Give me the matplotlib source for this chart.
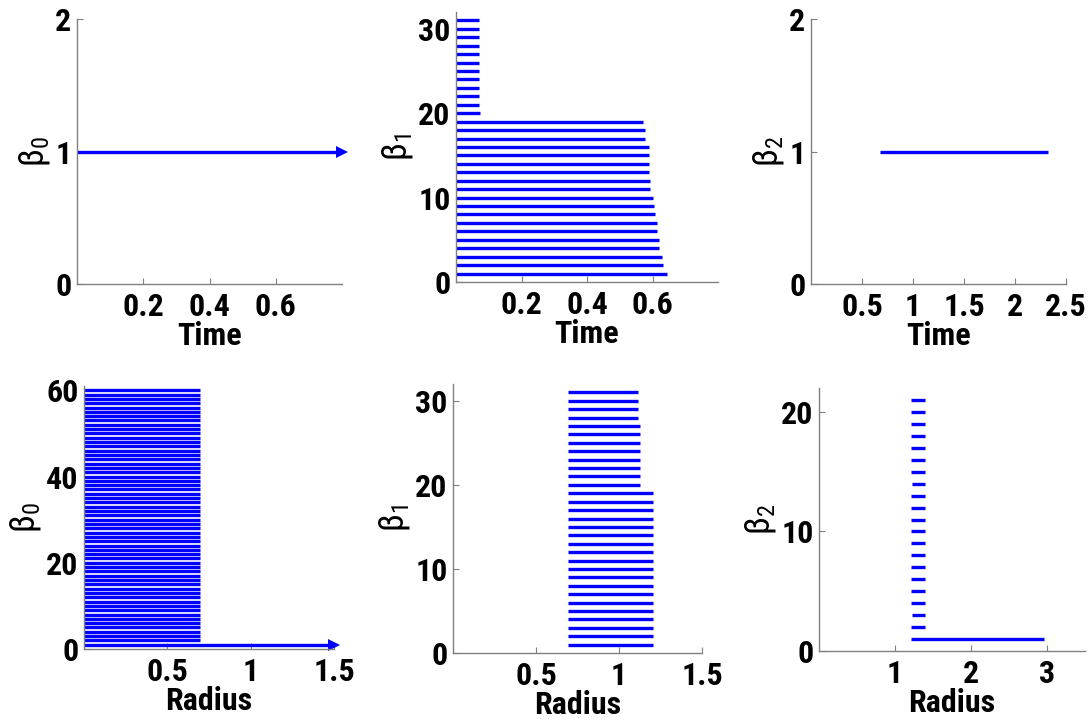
import numpy as np
import matplotlib
matplotlib.use("Agg")
import matplotlib.pyplot as plt
from matplotlib import font_manager

# ---------------- data ----------------
# Panel A: Time, beta0
t_b0_birth = [0.0]
t_b0_death = [np.inf]
t_b0_dim = [1]

# Panel B: Time, beta1 (index 1..31)
t_b1_dim = list(range(1, 32))
t_b1_birth = [0.0] * 31
t_b1_death = [0.643, 0.633, 0.630, 0.621, 0.619, 0.614, 0.613, 0.608, 0.604, 0.600,
              0.593, 0.593, 0.589, 0.589, 0.589, 0.589, 0.578, 0.578, 0.570,
              0.072, 0.070, 0.070, 0.070, 0.070, 0.070, 0.070, 0.070, 0.070, 0.070,
              0.070, 0.070]

# Panel C: Time, beta2
t_b2_dim = [1]
t_b2_birth = [0.676]
t_b2_death = [2.32]

# Panel D: Radius, beta0 (index 1..60)
r_b0_dim = list(range(1, 61))
r_b0_birth = [0.0] * 60
r_b0_death = [np.inf] + [0.695] * 59

# Panel E: Radius, beta1 (index 1..31)
r_b1_dim = list(range(1, 32))
r_b1_birth = [0.69] * 31
r_b1_death = [1.202] * 19 + [1.124] * 8 + [1.116] * 4

# Panel F: Radius, beta2 (index 1..21)
r_b2_dim = list(range(1, 22))
r_b2_birth = [1.21, 1.21, 1.23, 1.21, 1.21, 1.21, 1.21, 1.21, 1.21, 1.21,
              1.21, 1.21, 1.21, 1.23, 1.21, 1.21, 1.21, 1.21, 1.21, 1.21, 1.21]
r_b2_death = [2.96] + [1.40] * 20

panels = [
    dict(dim=t_b0_dim, birth=t_b0_birth, death=t_b0_death, xlim=(0, 0.8), ylim=(0, 2),
         xticks=[0.2, 0.4, 0.6], xtl=["0.2", "0.4", "0.6"], yticks=[0, 1, 2], ytl=["0", "1", "2"],
         xlabel="Time", sub="0", box=(77, 342, 19, 284)),
    dict(dim=t_b1_dim, birth=t_b1_birth, death=t_b1_death, xlim=(0, 0.8), ylim=(0, 32),
         xticks=[0.2, 0.4, 0.6], xtl=["0.2", "0.4", "0.6"], yticks=[0, 10, 20, 30], ytl=["0", "10", "20", "30"],
         xlabel="Time", sub="1", box=(456, 718, 12, 282)),
    dict(dim=t_b2_dim, birth=t_b2_birth, death=t_b2_death, xlim=(0, 2.5), ylim=(0, 2),
         xticks=[0.5, 1, 1.5, 2, 2.5], xtl=["0.5", "1", "1.5", "2", "2.5"], yticks=[0, 1, 2], ytl=["0", "1", "2"],
         xlabel="Time", sub="2", box=(811, 1066, 19, 284)),
    dict(dim=r_b0_dim, birth=r_b0_birth, death=r_b0_death, xlim=(0, 1.5), ylim=(0, 61),
         xticks=[0.5, 1, 1.5], xtl=["0.5", "1", "1.5"], yticks=[0, 20, 40, 60], ytl=["0", "20", "40", "60"],
         xlabel="Radius", sub="0", box=(84, 334, 386, 649)),
    dict(dim=r_b1_dim, birth=r_b1_birth, death=r_b1_death, xlim=(0, 1.5), ylim=(0, 32),
         xticks=[0.5, 1, 1.5], xtl=["0.5", "1", "1.5"], yticks=[0, 10, 20, 30], ytl=["0", "10", "20", "30"],
         xlabel="Radius", sub="1", box=(453, 702, 384, 653)),
    dict(dim=r_b2_dim, birth=r_b2_birth, death=r_b2_death, xlim=(0, 3.5), ylim=(0, 22),
         xticks=[1, 2, 3], xtl=["1", "2", "3"], yticks=[0, 10, 20], ytl=["0", "10", "20"],
         xlabel="Radius", sub="2", box=(819, 1085, 388, 651)),
]

# ---------------- style ----------------
bold_avail = {f.name for f in font_manager.fontManager.ttflist
              if isinstance(f.weight, int) and f.weight >= 700 and f.style == "normal"}
prefs = ["Liberation Sans Narrow", "Arial Narrow", "Nimbus Sans Narrow", "Archivo Narrow",
         "Roboto Condensed", "PT Sans Narrow", "Fira Sans Condensed", "IBM Plex Sans Condensed",
         "Barlow Semi Condensed", "Asap Condensed", "Encode Sans Condensed",
         "Sofia Sans Condensed", "Saira SemiCondensed", "Liberation Sans"]
narrow = next(f for f in prefs if f in bold_avail)
plt.rcParams["font.family"] = [narrow, "DejaVu Sans"]
plt.rcParams["mathtext.fontset"] = "custom"
plt.rcParams["mathtext.rm"] = "Liberation Sans"
plt.rcParams["mathtext.it"] = "Liberation Sans"

W, H = 1090, 725
fig = plt.figure(figsize=(W / 100, H / 100), dpi=100)
BLUE = "#0000ff"
GRAY = "#808080"
LW = 2.4

for p in panels:
    l, r, t, b = p["box"]
    ax = fig.add_axes([l / W, 1 - b / H, (r - l) / W, (b - t) / H])
    xmax = p["xlim"][1]
    for y, x0, x1 in zip(p["dim"], p["birth"], p["death"]):
        inf = np.isinf(x1)
        xe = xmax if inf else x1
        ax.plot([x0, xe], [y, y], color=BLUE, lw=LW, solid_capstyle="butt", clip_on=False)
        if inf:
            ax.plot([xe], [y], marker=">", color=BLUE, ms=8, mew=0, clip_on=False)
    ax.set_xlim(*p["xlim"])
    ax.set_ylim(*p["ylim"])
    ax.set_xticks(p["xticks"])
    ax.set_xticklabels(p["xtl"])
    ax.set_yticks(p["yticks"])
    ax.set_yticklabels(p["ytl"])
    for s in ["top", "right"]:
        ax.spines[s].set_visible(False)
    for s in ["left", "bottom"]:
        ax.spines[s].set_color(GRAY)
        ax.spines[s].set_linewidth(1.0)
    ax.tick_params(direction="in", length=4, width=0.8, color=GRAY, labelcolor="black",
                   labelsize=23)
    ax.tick_params(axis="x", pad=6)
    ax.tick_params(axis="y", pad=4)
    for lab in ax.get_xticklabels() + ax.get_yticklabels():
        lab.set_fontweight("bold")
    ax.set_xlabel(p["xlabel"], fontsize=23, fontweight="bold", labelpad=-1)
    ax.set_ylabel(r"$\mathregular{\beta_{" + p["sub"] + "}}$", fontsize=25, labelpad=2)

fig.savefig("out.png", dpi=100)
